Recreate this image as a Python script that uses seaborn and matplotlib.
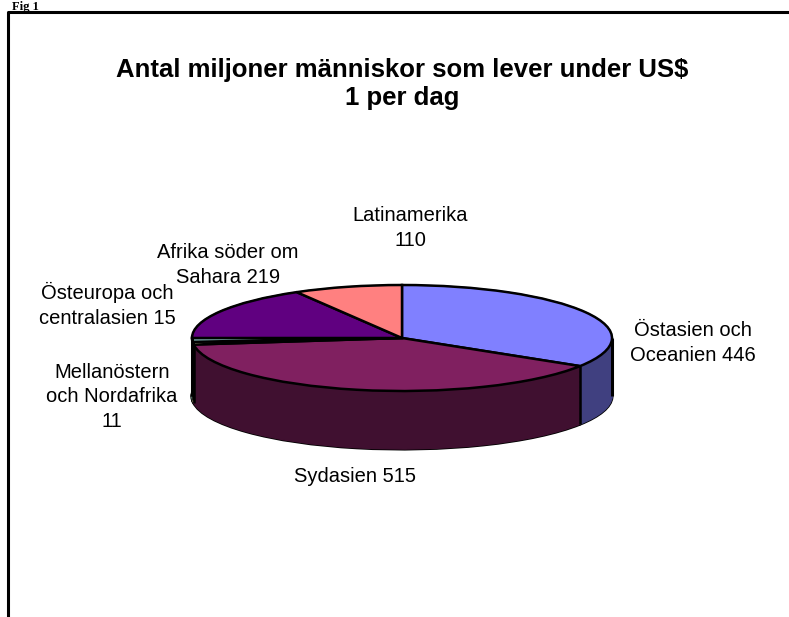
import numpy as np
import matplotlib
matplotlib.use('Agg')
import matplotlib.pyplot as plt
import seaborn as sns

# data
regions = ['Östasien och\nOceanien', 'Sydasien', 'Mellanöstern\noch Nordafrika',
           'Östeuropa och\ncentralasien', 'Afrika söder om\nSahara', 'Latinamerika']
values = [446, 515, 11, 15, 219, 110]
top_colors = ['#8080FF', '#802060', '#FFFFC0', '#A0E0E0', '#600080', '#FF8080']
label_text = ['Östasien och\nOceanien 446', 'Sydasien 515', 'Mellanöstern\noch Nordafrika\n11',
              'Östeuropa och\ncentralasien 15', 'Afrika söder om\nSahara 219', 'Latinamerika\n110']
# label centers in pixels (x, y from top)
label_pos = [(693, 343), (355, 476), (112, 397), (107, 305), (228, 265), (410, 228)]

sns.set_theme(style='white')
plt.rcParams['font.family'] = ['Liberation Sans', 'DejaVu Sans']
plt.rcParams['text.color'] = 'black'

W, H = 789, 617
fig = plt.figure(figsize=(W / 100, H / 100), dpi=100)

def px(x, y):
    return x / W, 1 - y / H

# frame around the chart
frame = fig.add_axes([0, 0, 1, 1])
frame.set_xlim(0, W)
frame.set_ylim(H, 0)
frame.axis('off')
frame.plot([8, 8, W + 5], [H + 5, 12, 12], color='black', lw=2.2)
fig.text(*px(12, 1), 'Fig 1', fontsize=9, fontweight='bold', family='Liberation Serif',
         ha='left', va='top')

fig.text(*px(402, 70), 'Antal miljoner människor som lever under US$', fontsize=18.5,
         fontweight='bold', ha='center', va='center')
fig.text(*px(402, 98), '1 per dag', fontsize=18.5, fontweight='bold', ha='center', va='center')

# pie axes: 1 unit in x = 210 px, 1 unit in y = 53 px
cx, cy, rx, ry = 402, 338, 210, 53
ax_l, ax_r, ax_t, ax_b = 182, 622, 275, 460
ax = fig.add_axes([ax_l / W, 1 - ax_b / H, (ax_r - ax_l) / W, (ax_b - ax_t) / H])
depth = 58 / ry

side_colors = [tuple(0.5 * c for c in matplotlib.colors.to_rgb(col)) for col in top_colors]

# bottom outline
wedges, _ = ax.pie(values, colors=side_colors, startangle=90, counterclock=False,
                   center=(0, -depth), wedgeprops=dict(edgecolor='black', linewidth=2.2))
for off in np.linspace(depth, 0, 70):
    wedges, _ = ax.pie(values, colors=side_colors, startangle=90, counterclock=False,
                       center=(0, -off), wedgeprops=dict(linewidth=1))
    for w in wedges:
        w.set_edgecolor(w.get_facecolor())

# vertical edges on the front side
angles = 90 - np.cumsum([0] + values) / sum(values) * 360
edge_angles = [a for a in angles if np.sin(np.radians(a)) < 0] + [0, 180]
for a in edge_angles:
    x = np.cos(np.radians(a))
    y = np.sin(np.radians(a))
    ax.plot([x, x], [y, y - depth], color='black', lw=1.8 if a not in (0, 180) else 2.2,
            solid_capstyle='butt')

ax.pie(values, colors=top_colors, startangle=90, counterclock=False,
       wedgeprops=dict(edgecolor='black', linewidth=1.8))

ax.set_aspect('auto')
ax.set_xlim(-(cx - ax_l) / rx, (ax_r - cx) / rx)
ax.set_ylim(-(ax_b - cy) / ry, (cy - ax_t) / ry)
ax.axis('off')

for txt, (x, y) in zip(label_text, label_pos):
    fig.text(*px(x, y), txt, fontsize=14.5, ha='center', va='center', linespacing=1.35)

fig.savefig('out.png', dpi=100)
